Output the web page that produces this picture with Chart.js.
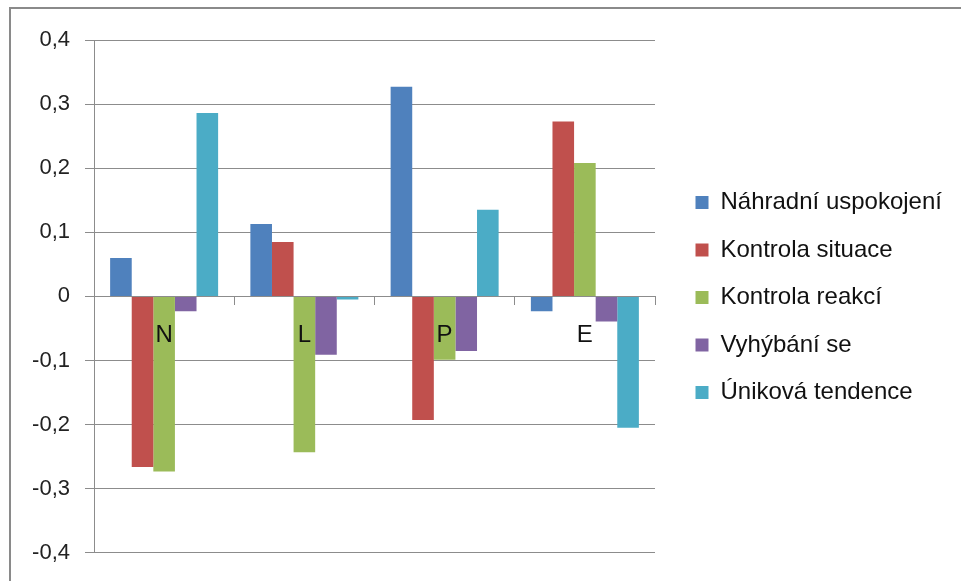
<!DOCTYPE html>
<html lang="cs">
<head>
<meta charset="utf-8">
<title>Copingové strategie</title>
<script src="https://cdn.jsdelivr.net/npm/chart.js@4.4.1/dist/chart.umd.min.js"></script>
<style>
    html, body { margin: 0; padding: 0; background: #fff; overflow: hidden; }
    .frame {
        position: absolute; left: 9px; top: 7px; width: 1000px; height: 620px;
        border-left: 2px solid #8a8a8a; border-top: 2px solid #8a8a8a;
    }
    #chart { position: absolute; left: 0; top: 0; }
</style>
</head>
<body>
<div class="frame"></div>
<canvas id="chart" width="961" height="581"></canvas>
<script>
// Categories on the x axis
const categories = ['N', 'L', 'P', 'E'];

// Series values (one entry per category)
const nahradniUspokojeni = [0.060, 0.113, 0.327, -0.023];
const kontrolaSituace = [-0.266, 0.085, -0.193, 0.273];
const kontrolaReakci = [-0.273, -0.243, -0.099, 0.208];
const vyhybaniSe = [-0.023, -0.091, -0.085, -0.039];
const unikovaTendence = [0.286, -0.005, 0.135, -0.205];

// Y axis range
const yMin = -0.4;
const yMax = 0.4;
const yStep = 0.1;

const series = [
    { label: 'Náhradní uspokojení', data: nahradniUspokojeni, color: '#4F81BD' },
    { label: 'Kontrola situace', data: kontrolaSituace, color: '#C0504D' },
    { label: 'Kontrola reakcí', data: kontrolaReakci, color: '#9BBB59' },
    { label: 'Vyhýbání se', data: vyhybaniSe, color: '#8064A2' },
    { label: 'Úniková tendence', data: unikovaTendence, color: '#4BACC6' },
];

const FONT = "'Liberation Sans', Arial, sans-serif";
const AXIS_GRAY = '#8c8c8c';
const LEGEND_WIDTH = 306;
const LEGEND_GAP = 17;

// Legend on the right is wider than Chart.js allows by default (half the
// width split between side boxes), so force its width and nudge it right.
const legendLayout = {
    id: 'legendLayout',
    beforeLayout(chart) {
        const legend = chart.legend;
        if (!legend || legend._fixedFit) return;
        const fit = legend.fit;
        legend.fit = function () {
            fit.call(this);
            this.width = LEGEND_WIDTH;
        };
        legend._fixedFit = true;
    },
    afterLayout(chart) {
        chart.legend.left += LEGEND_GAP;
        chart.legend.right += LEGEND_GAP;
    },
};

const fmt = v => {
    const r = Math.round(v * 10) / 10;
    return r === 0 ? '0' : r.toFixed(1).replace('.', ',');
};

new Chart(document.getElementById('chart'), {
    type: 'bar',
    data: {
        labels: categories,
        datasets: series.map(s => ({
            label: s.label,
            data: s.data,
            backgroundColor: s.color,
            borderWidth: 0,
            categoryPercentage: 0.77,
            barPercentage: 1.0,
        })),
    },
    options: {
        responsive: false,
        animation: false,
        layout: { padding: { left: 0, top: 40, right: 0, bottom: 26 } },
        plugins: {
            tooltip: { enabled: false },
            legend: {
                position: 'right',
                align: 'center',
                labels: {
                    color: '#111',
                    font: { family: FONT, size: 24 },
                    boxWidth: 13,
                    boxHeight: 13,
                    padding: 23.5,
                },
            },
        },
        scales: {
            x: {
                position: { y: 0 },
                grid: {
                    offset: true,
                    drawOnChartArea: false,
                    drawTicks: true,
                    tickLength: 8,
                    color: AXIS_GRAY,
                },
                border: { color: AXIS_GRAY, width: 1 },
                ticks: {
                    z: 1, // category letters sit on top of the bars
                    color: '#111',
                    font: { family: FONT, size: 24 },
                    padding: 17,
                },
            },
            y: {
                min: yMin,
                max: yMax,
                afterFit(scale) { scale.width = 94; },
                grid: { color: AXIS_GRAY, tickLength: 9 },
                border: { color: AXIS_GRAY, width: 1 },
                ticks: {
                    stepSize: yStep,
                    color: '#222',
                    font: { family: FONT, size: 22 },
                    padding: 15,
                    callback: fmt,
                },
            },
        },
    },
    plugins: [legendLayout],
});
</script>
</body>
</html>
